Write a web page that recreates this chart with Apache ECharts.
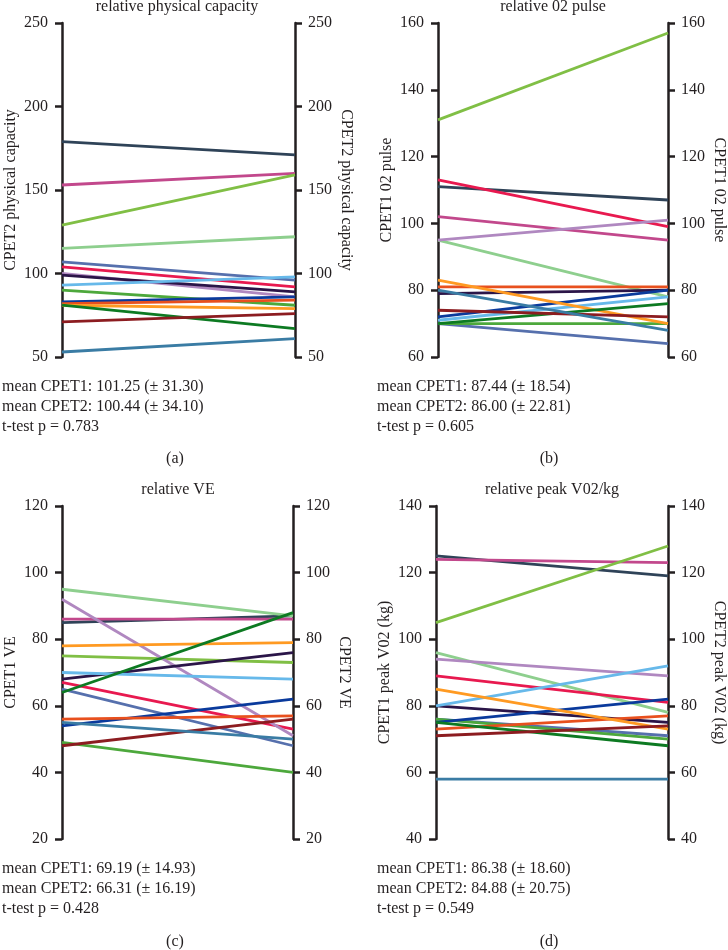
<!DOCTYPE html>
<html>
<head>
<meta charset="utf-8">
<script src="https://cdn.jsdelivr.net/npm/echarts@6/dist/echarts.min.js"></script>
<style>
html,body{margin:0;padding:0;background:#fff;}
#chart{width:728px;height:950px;}
</style>
</head>
<body>
<div id="chart"></div>
<script>
// Subject colours (one per participant, same across panels)
const subjectColors = ['#2f4358','#c2488c','#80bf45','#8ecf8e','#5670ad','#e8194f','#b088c0','#2b1548',
  '#67b9ea','#4da83c','#0a3a9c','#e8501e','#ff9a22','#0d7a22','#8c1c20','#3a7ca4'];

// (a) relative physical capacity
const physCap1 = [179,153,129,115,107,104,100,99,93,90,83,82,81,81,71,53];
const physCap2 = [171,160,159,122,96,92,86,89,98,81,86,84,79,67,76,61];
// (b) relative 02 pulse
const o2Pulse1 = [111,102,131,95,70,113,95,79,71,70,72,81,83,70,74,80];
const o2Pulse2 = [107,95,157,78,64,99,101,80,78,70,80,81,70,76,72,68];
// (c) relative VE
const ve1 = [85,86,75,95,65,67,92,68,70,49,54,56,78,64,48,55];
const ve2 = [87,86,73,87,48,53,51,76,68,40,62,57,79,88,56,50];
// (d) relative peak V02/kg
const vo2kg1 = [125,124,105,96,76,89,94,80,80,76,75,73,85,75,71,58];
const vo2kg2 = [119,123,128,78,71,81,89,75,92,70,82,77,73,68,74,58];

const panels = [
  {title:'relative physical capacity', left:62, right:433, top:23, bottom:593, min:50, max:250, step:50,
   nameL:'CPET2 physical capacity', nameR:'CPET2 physical capacity', d1:physCap1, d2:physCap2,
   stats:['mean CPET1: 101.25 (\u00b1 31.30)','mean CPET2: 100.44 (\u00b1 34.10)','t-test p = 0.783'],
   sx:2, sy:387, lab:'(a)', lx:175, ly:459, tx:177, ty:7},
  {title:'relative 02 pulse', left:438, right:59, top:23, bottom:593, min:60, max:160, step:20,
   nameL:'CPET1 02 pulse', nameR:'CPET1 02 pulse', d1:o2Pulse1, d2:o2Pulse2,
   stats:['mean CPET1: 87.44 (\u00b1 18.54)','mean CPET2: 86.00 (\u00b1 22.81)','t-test p = 0.605'],
   sx:377, sy:387, lab:'(b)', lx:549, ly:459, tx:553, ty:7},
  {title:'relative VE', left:62, right:435, top:506, bottom:111, min:20, max:120, step:20,
   nameL:'CPET1 VE', nameR:'CPET2 VE', d1:ve1, d2:ve2,
   stats:['mean CPET1: 69.19 (\u00b1 14.93)','mean CPET2: 66.31 (\u00b1 16.19)','t-test p = 0.428'],
   sx:2, sy:869, lab:'(c)', lx:175, ly:942, tx:178, ty:490},
  {title:'relative peak V02/kg', left:436, right:60, top:506, bottom:111, min:40, max:140, step:20,
   nameL:'CPET1 peak V02 (kg)', nameR:'CPET2 peak V02 (kg)', d1:vo2kg1, d2:vo2kg2,
   stats:['mean CPET1: 86.38 (\u00b1 18.60)','mean CPET2: 84.88 (\u00b1 20.75)','t-test p = 0.549'],
   sx:377, sy:869, lab:'(d)', lx:549, ly:942, tx:552, ty:490}
];

const FONT = '"Liberation Serif", "DejaVu Serif", serif';
const TXT = '#231f20';
const grid = [], xAxis = [], yAxis = [], series = [], graphic = [];

panels.forEach((p, i) => {
  grid.push({left:p.left, right:p.right, top:p.top, bottom:p.bottom, containLabel:false});
  xAxis.push({type:'value', gridIndex:i, min:0, max:1, show:false});
  const axisCommon = {
    type:'value', gridIndex:i, min:p.min, max:p.max, interval:p.step,
    axisLine:{show:true, lineStyle:{color:'#231f20', width:2.5}},
    axisTick:{show:true, inside:false, length:7, lineStyle:{color:'#231f20', width:2.5}},
    splitLine:{show:false},
    nameLocation:'middle',
    nameTextStyle:{fontFamily:FONT, fontSize:16, color:TXT}
  };
  yAxis.push(Object.assign({}, axisCommon, {position:'left', name:p.nameL, nameGap:43, nameRotate:90,
    axisLabel:{margin:14, fontFamily:FONT, fontSize:16, color:TXT}}));
  yAxis.push(Object.assign({}, axisCommon, {position:'right', name:p.nameR, nameGap:43, nameRotate:-90,
    axisLabel:{margin:13, fontFamily:FONT, fontSize:16, color:TXT}}));
  p.d1.forEach((v, k) => {
    series.push({type:'line', xAxisIndex:i, yAxisIndex:2*i, symbol:'none', silent:true,
      lineStyle:{color:subjectColors[k], width:2.8}, data:[[0, v],[1, p.d2[k]]], z:2+k});
  });
  graphic.push({type:'text', x:p.tx, y:p.ty, style:{text:p.title, font:'16px '+FONT, fill:TXT,
    textAlign:'center', textVerticalAlign:'middle'}});
  p.stats.forEach((s, j) => {
    graphic.push({type:'text', x:p.sx, y:p.sy + j*20, style:{text:s, font:'16px '+FONT, fill:TXT,
      textAlign:'left', textVerticalAlign:'middle'}});
  });
  graphic.push({type:'text', x:p.lx, y:p.ly, style:{text:p.lab, font:'16px '+FONT, fill:TXT,
    textAlign:'center', textVerticalAlign:'middle'}});
});

const chart = echarts.init(document.getElementById('chart'), null, {renderer:'canvas'});
chart.setOption({animation:false, backgroundColor:'#fff', grid, xAxis, yAxis, series, graphic});
</script>
</body>
</html>
